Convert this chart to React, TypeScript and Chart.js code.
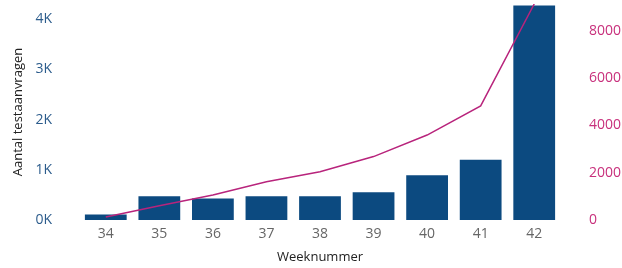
import React, { useEffect, useRef } from "react";
import { Chart, registerables } from "chart.js";

Chart.register(...registerables);

const weeks = ["34", "35", "36", "37", "38", "39", "40", "41", "42"];
const aanvragen = [110, 475, 430, 475, 475, 550, 890, 1200, 4270];
const cumulatief = [130, 600, 1060, 1620, 2040, 2680, 3590, 4820, 9130];
const leftTicks = [0, 1000, 2000, 3000, 4000];
const rightTicks = [0, 2000, 4000, 6000, 8000];

const FONT = "'Open Sans', 'DejaVu Sans', sans-serif";

const fixVertical = (w: number) => (s: any) => {
  s.width = w;
  s.paddingTop = 0;
  s.paddingBottom = 0;
};

export default function App() {
  const ref = useRef<HTMLCanvasElement>(null);
  useEffect(() => {
    if (!ref.current) return;
    const chart = new Chart(ref.current, {
      type: "bar",
      data: {
        labels: weeks,
        datasets: [
          {
            type: "line",
            label: "Cumulatief",
            data: cumulatief,
            yAxisID: "y2",
            borderColor: "#b8247c",
            borderWidth: 1.5,
            pointRadius: 0,
            tension: 0,
            order: 0,
          },
          {
            type: "bar",
            label: "Aantal testaanvragen",
            data: aanvragen,
            yAxisID: "y",
            backgroundColor: "#0c4a80",
            categoryPercentage: 1,
            barPercentage: 0.78,
            order: 1,
          },
        ],
      },
      options: {
        responsive: false,
        animation: false,
        layout: { padding: { top: 4, left: 0, right: 0, bottom: 0 } },
        plugins: { legend: { display: false }, tooltip: { enabled: false } },
        scales: {
          x: {
            grid: { display: false, drawTicks: false },
            border: { display: false },
            ticks: { color: "#666666", font: { family: FONT, size: 14 }, padding: 6 },
            title: {
              display: true,
              text: "Weeknummer",
              color: "#222222",
              font: { family: FONT, size: 13 },
              padding: { top: 0, bottom: 3 },
            },
            afterFit: (s: any) => {
              s.height = 48;
              s.paddingLeft = 0;
              s.paddingRight = 0;
            },
          },
          y: {
            position: "left",
            min: 0,
            max: 4300,
            grid: { display: false, drawTicks: false },
            border: { display: false },
            afterBuildTicks: (s: any) => {
              s.ticks = leftTicks.map((v) => ({ value: v }));
            },
            ticks: {
              color: "#2c5c8c",
              font: { family: FONT, size: 14 },
              padding: 27,
              callback: (v: any) => Number(v) / 1000 + "K",
            },
            title: {
              display: true,
              text: "Aantal testaanvragen",
              color: "#222222",
              font: { family: FONT, size: 13 },
              padding: { top: 10, bottom: 0 },
            },
            afterFit: fixVertical(79),
          },
          y2: {
            position: "right",
            min: 0,
            max: 9130,
            grid: { display: false, drawTicks: false },
            border: { display: false },
            afterBuildTicks: (s: any) => {
              s.ticks = rightTicks.map((v) => ({ value: v }));
            },
            ticks: {
              color: "#c8307c",
              font: { family: FONT, size: 14 },
              padding: 28,
              callback: (v: any) => String(v),
            },
            afterFit: fixVertical(61),
          },
        },
      },
    });
    return () => chart.destroy();
  }, []);
  return (
    <div style={{ position: "fixed", left: 0, top: 0, width: 622, height: 268, background: "#ffffff" }}>
      <canvas ref={ref} width={622} height={268} style={{ display: "block" }} />
    </div>
  );
}
